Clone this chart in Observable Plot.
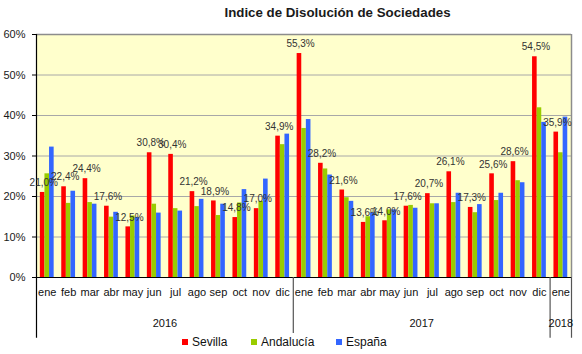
<!DOCTYPE html>
<html>
<head>
<meta charset="utf-8">
<script src="https://cdn.jsdelivr.net/npm/d3@7"></script>
<script src="https://cdn.jsdelivr.net/npm/@observablehq/plot@0.6"></script>
<style>
  body { margin: 0; background: #fff; font-family: "Liberation Sans", Arial, sans-serif; }
  #title { width: 582px; height: 26px; line-height: 26px; box-sizing: border-box; padding-left: 93px;
           text-align: center; font-weight: bold; font-size: 13.3px; color: #1a1a1a; }
  #legend { position: relative; width: 582px; height: 16px; font-size: 12px; color: #111; }
  #legend .item { position: absolute; top: 0; line-height: 16px; white-space: nowrap; }
  #legend .sw { display: inline-block; width: 6px; height: 6px; margin-right: 4px; vertical-align: 1px; }
</style>
</head>
<body>
<div id="title">Indice de Disolución de Sociedades</div>
<div id="chart"></div>
<div id="legend"></div>
<script>
// ---- data ----
const months = ["ene","feb","mar","abr","may","jun","jul","ago","sep","oct","nov","dic",
                "ene","feb","mar","abr","may","jun","jul","ago","sep","oct","nov","dic",
                "ene"];
const yearLabels = ["2016", "2017", "2018"];
const monthsPerYear = [12, 12, 1];
const seriesNames = ["Sevilla", "Andalucía", "España"];
const sevilla   = [21.0,22.4,24.4,17.6,12.5,30.8,30.4,21.2,18.9,14.8,17.0,34.9,
                   55.3,28.2,21.6,13.6,14.0,17.6,20.7,26.1,17.3,25.6,28.6,54.5,
                   35.9];
const andalucia = [25.6,18.3,18.5,14.9,15.2,18.1,17.0,17.5,15.3,18.4,18.8,32.8,
                   36.8,26.8,19.7,15.0,16.7,17.8,18.2,18.5,16.0,19.0,23.9,41.9,
                   30.8];
const espana    = [32.2,21.3,18.1,16.1,14.8,15.9,16.4,19.3,18.1,21.7,24.3,35.4,
                   39.0,25.3,18.8,16.0,16.7,17.1,18.2,20.8,18.0,20.8,23.4,38.3,
                   39.6];
const yTicks = [0, 10, 20, 30, 40, 50, 60];

// ---- build ----
const colors = ["#FF0000", "#99CC00", "#3366FF"];
const seriesValues = [sevilla, andalucia, espana];
const rows = [];
seriesValues.forEach((vals, s) => vals.forEach((v, i) => rows.push({i, s, v, name: seriesNames[s]})));
const monthRows = months.map((m, i) => ({i, m}));

let acc = 0;
const yearRows = yearLabels.map((y, k) => {
  const start = acc; acc += monthsPerYear[k];
  return {year: y, start, end: acc, mid: (start + acc) / 2};
});

const barStart = 0.18, barW = 0.215;
const below = -15; // axis extension below 0, in y units
const fmt = v => v.toFixed(1).replace(".", ",") + "%";

const chart = Plot.plot({
  width: 582, height: 308,
  marginLeft: 36, marginRight: 11, marginTop: 8, marginBottom: 57,
  x: {type: "linear", domain: [0, months.length], axis: null},
  y: {type: "linear", domain: [0, 60], axis: null},
  style: {fontFamily: "'Liberation Sans', Arial, sans-serif", fontSize: "11px", background: "white", overflow: "visible"},
  marks: [
    Plot.frame({fill: "#FFFFCC", stroke: null}),
    Plot.ruleY(yTicks.filter(t => t > 0 && t < 60), {stroke: "#a8a8a8", strokeWidth: 1}),
    Plot.rectY(rows, {
      x1: d => d.i + barStart + d.s * barW,
      x2: d => d.i + barStart + (d.s + 1) * barW,
      y1: () => 0, y2: "v",
      fill: d => colors[d.s]
    }),
    Plot.ruleY([60], {stroke: "#8c8c8c", strokeWidth: 1.5}),
    Plot.ruleX([months.length], {y1: () => 60, y2: () => 0, stroke: "#8c8c8c", strokeWidth: 1.5}),
    Plot.ruleY([0], {stroke: "#000", strokeWidth: 1.2}),
    Plot.ruleX([0], {y1: () => 60, y2: () => below, stroke: "#000", strokeWidth: 1.2}),
    Plot.ruleX(yearRows, {x: "end", y1: () => 0, y2: (d, k) => k === 0 ? below + 1.2 : below, stroke: "#555", strokeWidth: 1.2}),
    Plot.ruleY(yTicks, {x1: () => 0, x2: () => 0, insetLeft: -4, stroke: "#000"}),
    Plot.text(yTicks, {y: d => d, frameAnchor: "left", dx: -11, textAnchor: "end", text: d => d + "%", fill: "#1a1a1a", fontSize: 11}),
    Plot.text(rows.filter(d => d.s === 0), {
      x: d => d.i + 0.34, y: "v", text: d => fmt(d.v), dy: -9.5,
      fontSize: 10, fill: "#333"
    }),
    Plot.text(monthRows, {x: d => d.i + 0.5, text: "m", frameAnchor: "bottom", dy: 18, fontSize: 11, fill: "#111"}),
    Plot.text(yearRows, {x: "mid", text: "year", frameAnchor: "bottom", dy: 49, fontSize: 11, fill: "#111"})
  ]
});
document.getElementById("chart").appendChild(chart);

const legend = document.getElementById("legend");
const legendX = [182, 251, 336];
seriesNames.forEach((n, k) => {
  const it = document.createElement("div");
  it.className = "item";
  it.style.left = legendX[k] + "px";
  it.innerHTML = `<span class="sw" style="background:${colors[k]}"></span>${n}`;
  legend.appendChild(it);
});
</script>
</body>
</html>
